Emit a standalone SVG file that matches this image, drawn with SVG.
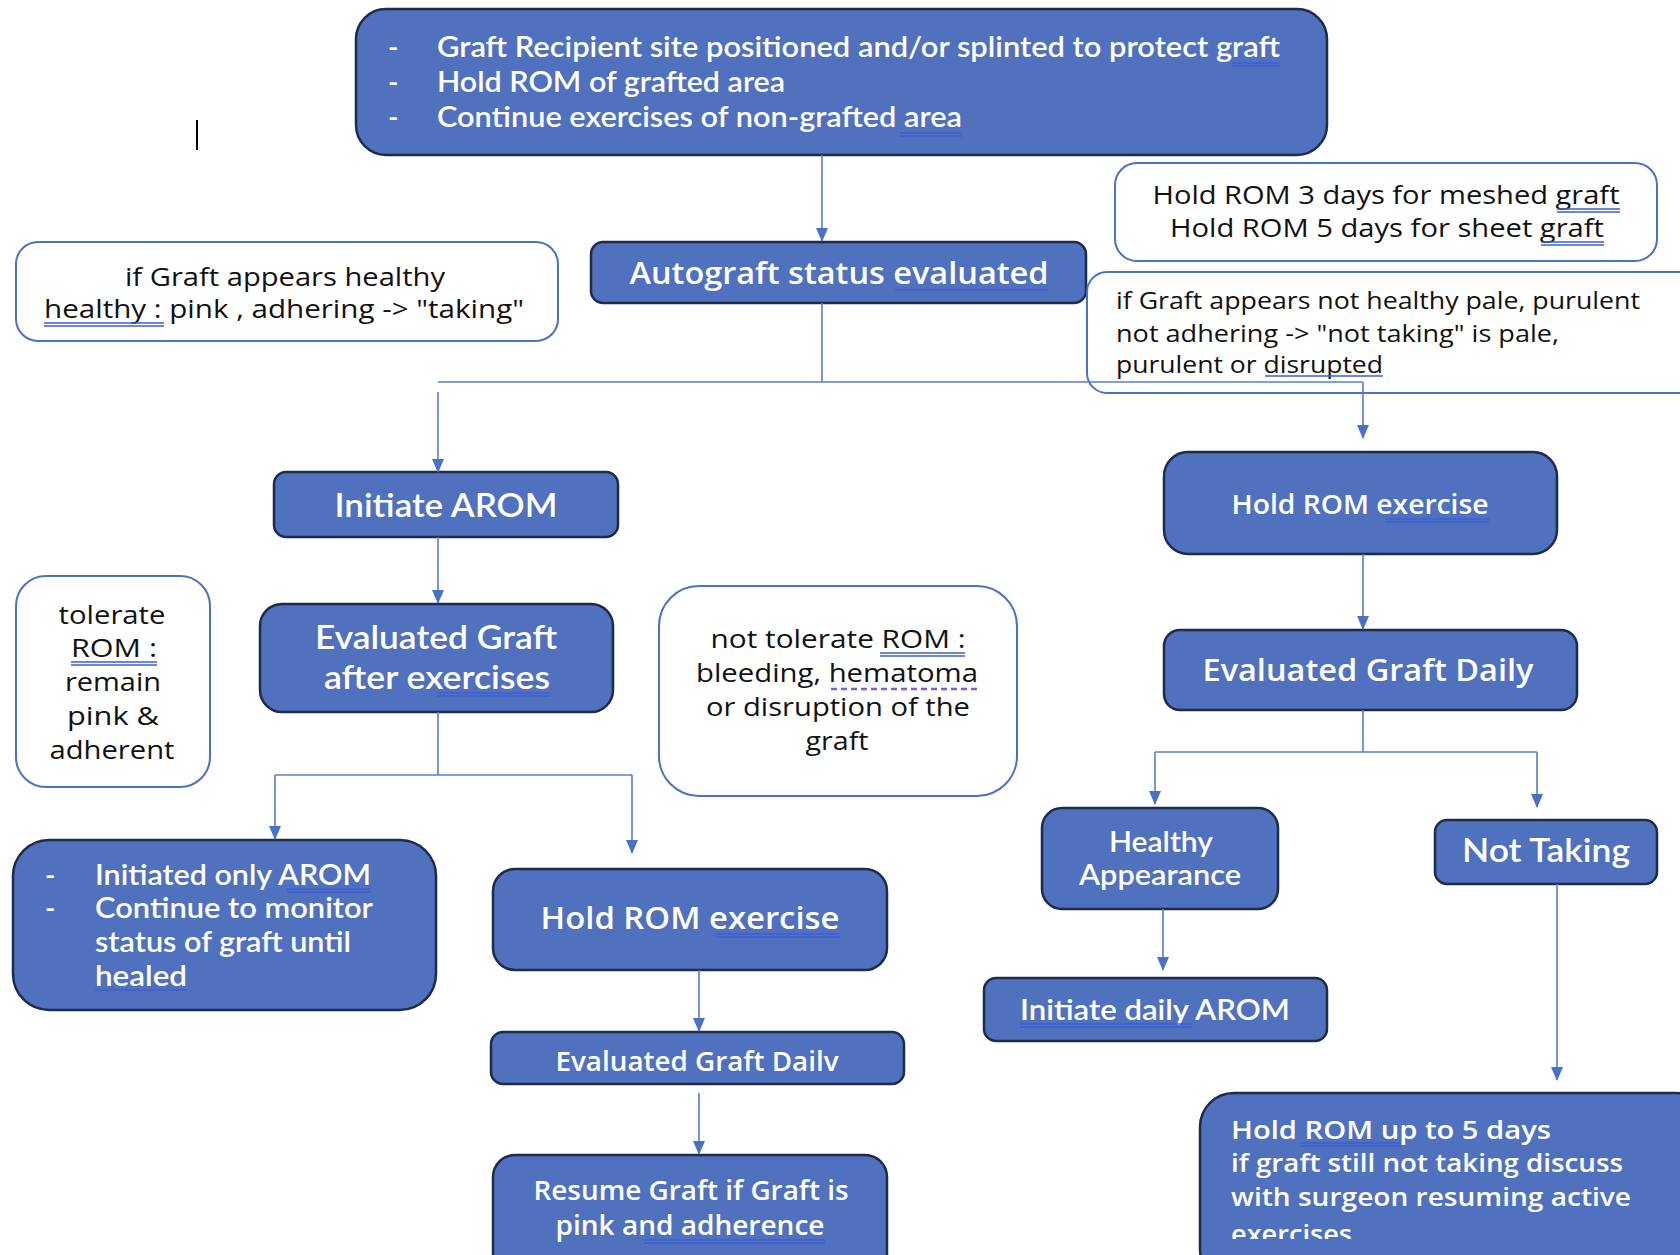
<svg xmlns="http://www.w3.org/2000/svg" width="1680" height="1255" viewBox="0 0 1680 1255">
<defs>
<style>
.box{fill:#5071BE;stroke:#1E2B4A;stroke-width:2.5}
.note{fill:#FFFFFF;stroke:#4A72C4;stroke-width:2}
.wt{fill:#FFFFFF;font-family:Lato,"Open Sans",sans-serif;font-weight:600}
.ws{fill:#FFFFFF;font-family:"Open Sans",Lato,sans-serif;font-weight:600}
.bt{fill:#111111;font-family:"Open Sans",Lato,sans-serif}
.c{text-anchor:middle}
.con{fill:none;stroke:#5A7DC8;stroke-width:1.6}
.ul{fill:none;stroke:#3B5FD6;stroke-width:1.3}
.ud{fill:none;stroke:#7B5FE0;stroke-width:2.5;stroke-dasharray:6 4}
</style>
<marker id="ah" markerWidth="14" markerHeight="12" refX="13" refY="6" orient="auto" markerUnits="userSpaceOnUse">
<path d="M0,0 L14,6 L0,12 Z" fill="#4A72C4"/>
</marker>
<clipPath id="clipLast"><rect x="1200" y="1093" width="480" height="146"/></clipPath>
</defs>

<line x1="197" y1="120" x2="197" y2="150" stroke="#000" stroke-width="2"/>

<g id="top">
<rect class="box" x="356" y="9" width="971" height="146" rx="30"/>
<text class="wt" font-size="28" x="388" y="57">-</text>
<text class="wt" font-size="28" x="388" y="92">-</text>
<text class="wt" font-size="28" x="388" y="127">-</text>
<text class="wt" font-size="28" x="437" y="57" textLength="843" lengthAdjust="spacingAndGlyphs">Graft Recipient site positioned and/or splinted to protect graft</text>
<text class="wt" font-size="28" x="437" y="92" textLength="348" lengthAdjust="spacingAndGlyphs">Hold ROM of grafted area</text>
<text class="wt" font-size="28" x="437" y="127" textLength="525" lengthAdjust="spacingAndGlyphs">Continue exercises of non-grafted area</text>
<path class="ul" d="M1232,63 H1280 M1232,66 H1280 M900,133 H962 M900,136 H962"/>
</g>

<g id="autograft">
<rect class="box" x="591" y="242" width="495" height="61" rx="12"/>
<text class="ws c" font-size="31" x="839" y="284" textLength="419" lengthAdjust="spacingAndGlyphs">Autograft status evaluated</text>
<path class="ul" d="M895,290 H1048"/>
</g>

<g id="note-healthy">
<rect class="note" x="16" y="242" width="542" height="99" rx="22"/>
<text class="bt c" font-size="25" x="285" y="286" textLength="320" lengthAdjust="spacingAndGlyphs">if Graft appears healthy</text>
<text class="bt c" font-size="25" x="284" y="318" textLength="480" lengthAdjust="spacingAndGlyphs">healthy : pink , adhering -&gt; "taking"</text>
<path class="ul" d="M44,323 H164 M44,326 H164"/>
</g>

<g id="note-hold-days">
<rect class="note" x="1115" y="163" width="542" height="98" rx="22"/>
<text class="bt c" font-size="25" x="1386" y="204" textLength="467" lengthAdjust="spacingAndGlyphs">Hold ROM 3 days for meshed graft</text>
<text class="bt c" font-size="25" x="1387" y="237" textLength="434" lengthAdjust="spacingAndGlyphs">Hold ROM 5 days for sheet graft</text>
<path class="ul" d="M1557,209 H1620 M1557,212 H1620 M1541,242 H1604 M1541,245 H1604"/>
</g>

<g id="note-not-healthy">
<rect class="note" x="1087" y="272" width="620" height="121" rx="20"/>
<text class="bt" font-size="23" x="1116" y="309" textLength="524" lengthAdjust="spacingAndGlyphs">if Graft appears not healthy pale, purulent</text>
<text class="bt" font-size="23" x="1116" y="342" textLength="443" lengthAdjust="spacingAndGlyphs">not adhering -&gt; "not taking" is pale,</text>
<text class="bt" font-size="23" x="1116" y="373" textLength="267" lengthAdjust="spacingAndGlyphs">purulent or disrupted</text>
<path class="ul" d="M1265,376 H1383"/>
</g>

<g id="initiate-arom">
<rect class="box" x="274" y="472" width="344" height="65" rx="12"/>
<text class="wt c" font-size="33" x="446" y="517" textLength="223" lengthAdjust="spacingAndGlyphs">Initiate AROM</text>
</g>

<g id="eval-after">
<rect class="box" x="260" y="604" width="353" height="108" rx="22"/>
<text class="wt c" font-size="33" x="436" y="649" textLength="242" lengthAdjust="spacingAndGlyphs">Evaluated Graft</text>
<text class="wt c" font-size="33" x="437" y="689" textLength="226" lengthAdjust="spacingAndGlyphs">after exercises</text>
<path class="ul" d="M437,693 H550 M437,696 H550"/>
</g>

<g id="note-tolerate">
<rect class="note" x="16" y="576" width="194" height="211" rx="30"/>
<text class="bt c" font-size="26" x="112" y="624" textLength="107" lengthAdjust="spacingAndGlyphs">tolerate</text>
<text class="bt c" font-size="26" x="114" y="657" textLength="86" lengthAdjust="spacingAndGlyphs">ROM :</text>
<text class="bt c" font-size="26" x="113" y="691" textLength="96" lengthAdjust="spacingAndGlyphs">remain</text>
<text class="bt c" font-size="26" x="113" y="725" textLength="92" lengthAdjust="spacingAndGlyphs">pink &amp;</text>
<text class="bt c" font-size="26" x="112" y="759" textLength="125" lengthAdjust="spacingAndGlyphs">adherent</text>
<path class="ul" d="M71,662 H157 M71,665 H157"/>
</g>

<g id="note-not-tolerate">
<rect class="note" x="659" y="586" width="358" height="210" rx="40"/>
<text class="bt c" font-size="26" x="838" y="648" textLength="255" lengthAdjust="spacingAndGlyphs">not tolerate ROM :</text>
<text class="bt c" font-size="26" x="837" y="682" textLength="282" lengthAdjust="spacingAndGlyphs">bleeding, hematoma</text>
<text class="bt c" font-size="26" x="838" y="716" textLength="264" lengthAdjust="spacingAndGlyphs">or disruption of the</text>
<text class="bt c" font-size="26" x="837" y="750" textLength="63" lengthAdjust="spacingAndGlyphs">graft</text>
<path class="ul" d="M880,653 H965 M880,656 H965"/>
<path class="ud" d="M831,689 H978"/>
</g>

<g id="initiated-only">
<rect class="box" x="13" y="840" width="423" height="170" rx="36"/>
<text class="wt" font-size="28" x="45" y="885">-</text>
<text class="wt" font-size="28" x="45" y="918">-</text>
<text class="wt" font-size="28" x="95" y="885" textLength="276" lengthAdjust="spacingAndGlyphs">Initiated only AROM</text>
<text class="wt" font-size="28" x="95" y="918" textLength="278" lengthAdjust="spacingAndGlyphs">Continue to monitor</text>
<text class="wt" font-size="28" x="95" y="952" textLength="256" lengthAdjust="spacingAndGlyphs">status of graft until</text>
<text class="wt" font-size="28" x="95" y="986" textLength="92" lengthAdjust="spacingAndGlyphs">healed</text>
<path class="ul" d="M287,889 H371 M287,892 H371 M95,990 H187"/>
</g>

<g id="hold-rom-mid">
<rect class="box" x="493" y="869" width="394" height="101" rx="22"/>
<text class="ws c" font-size="31" x="690" y="929" textLength="299" lengthAdjust="spacingAndGlyphs">Hold ROM exercise</text>
<path class="ul" d="M716,934 H840 M716,937 H840"/>
</g>

<g id="eval-daily-mid">
<rect class="box" x="491" y="1032" width="413" height="52" rx="12"/>
<text class="ws c" font-size="27" x="697" y="1071" textLength="283" lengthAdjust="spacingAndGlyphs">Evaluated Graft Dailv</text>
</g>

<g id="resume">
<rect class="box" x="493" y="1155" width="394" height="120" rx="22"/>
<text class="ws c" font-size="27" x="691" y="1200" textLength="315" lengthAdjust="spacingAndGlyphs">Resume Graft if Graft is</text>
<text class="ws c" font-size="27" x="690" y="1235" textLength="269" lengthAdjust="spacingAndGlyphs">pink and adherence</text>
<path class="ul" d="M644,1240 H825 M644,1243 H825"/>
</g>

<g id="hold-rom-right">
<rect class="box" x="1164" y="452" width="393" height="102" rx="24"/>
<text class="ws c" font-size="27" x="1360" y="514" textLength="257" lengthAdjust="spacingAndGlyphs">Hold ROM exercise</text>
<path class="ul" d="M1385,519 H1489 M1385,522 H1489"/>
</g>

<g id="eval-daily-right">
<rect class="box" x="1164" y="630" width="413" height="80" rx="16"/>
<text class="ws c" font-size="31" x="1368" y="681" textLength="331" lengthAdjust="spacingAndGlyphs">Evaluated Graft Daily</text>
</g>

<g id="healthy-appearance">
<rect class="box" x="1042" y="808" width="236" height="101" rx="20"/>
<text class="wt c" font-size="28" x="1161" y="852" textLength="104" lengthAdjust="spacingAndGlyphs">Healthy</text>
<text class="wt c" font-size="28" x="1160" y="885" textLength="162" lengthAdjust="spacingAndGlyphs">Appearance</text>
</g>

<g id="initiate-daily">
<rect class="box" x="984" y="978" width="343" height="63" rx="12"/>
<text class="wt c" font-size="28" x="1155" y="1020" textLength="270" lengthAdjust="spacingAndGlyphs">Initiate  daily AROM</text>
<path class="ul" d="M1020,1024 H1192 M1020,1027 H1192"/>
</g>

<g id="not-taking">
<rect class="box" x="1435" y="820" width="222" height="64" rx="12"/>
<text class="wt c" font-size="32" x="1546" y="862" textLength="168" lengthAdjust="spacingAndGlyphs">Not Taking</text>
</g>

<g id="hold-rom-5">
<rect class="box" x="1200" y="1093" width="510" height="190" rx="34"/>
<text class="ws" font-size="26" x="1231" y="1139" textLength="320" lengthAdjust="spacingAndGlyphs">Hold ROM  up to 5 days</text>
<text class="ws" font-size="26" x="1231" y="1172" textLength="392" lengthAdjust="spacingAndGlyphs">if graft still not taking discuss</text>
<text class="ws" font-size="26" x="1231" y="1206" textLength="400" lengthAdjust="spacingAndGlyphs">with surgeon resuming active</text>
<text class="ws" font-size="26" x="1231" y="1243" textLength="121" lengthAdjust="spacingAndGlyphs" clip-path="url(#clipLast)">exercises</text>
<path class="ul" d="M1300,1143 H1401 M1300,1146 H1401"/>
</g>

<g id="connectors">
<line class="con" x1="822" y1="155" x2="822" y2="241" marker-end="url(#ah)"/>
<polyline class="con" points="822,303 822,382"/>
<polyline class="con" points="438,382 1363,382"/>
<line class="con" x1="438" y1="392" x2="438" y2="472" marker-end="url(#ah)"/>
<line class="con" x1="1363" y1="382" x2="1363" y2="438" marker-end="url(#ah)"/>
<line class="con" x1="438" y1="537" x2="438" y2="603" marker-end="url(#ah)"/>
<polyline class="con" points="438,712 438,775"/>
<polyline class="con" points="275,775 632,775"/>
<line class="con" x1="275" y1="775" x2="275" y2="839" marker-end="url(#ah)"/>
<line class="con" x1="632" y1="775" x2="632" y2="853" marker-end="url(#ah)"/>
<line class="con" x1="699" y1="970" x2="699" y2="1031" marker-end="url(#ah)"/>
<line class="con" x1="699" y1="1093" x2="699" y2="1154" marker-end="url(#ah)"/>
<line class="con" x1="1363" y1="554" x2="1363" y2="629" marker-end="url(#ah)"/>
<polyline class="con" points="1363,710 1363,752"/>
<polyline class="con" points="1155,752 1537,752"/>
<line class="con" x1="1155" y1="752" x2="1155" y2="804" marker-end="url(#ah)"/>
<line class="con" x1="1537" y1="752" x2="1537" y2="807" marker-end="url(#ah)"/>
<line class="con" x1="1163" y1="909" x2="1163" y2="970" marker-end="url(#ah)"/>
<line class="con" x1="1557" y1="884" x2="1557" y2="1080" marker-end="url(#ah)"/>
</g>
</svg>
